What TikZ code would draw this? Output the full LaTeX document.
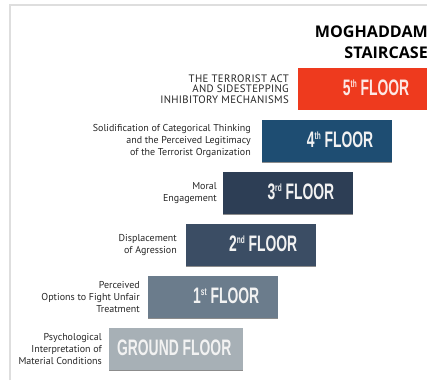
\documentclass[tikz,border=0pt]{standalone}
\usepackage{fontspec}
\setmainfont{PT Sans}
\newfontfamily\titlefont{Open Sans}
\newfontfamily\floorfont{Liberation Sans}
\newfontfamily\capsfont[LetterSpace=3]{PT Sans}
\usetikzlibrary{positioning}
\definecolor{floorG}{HTML}{A7B0B6}
\definecolor{floorA}{HTML}{6B7C8C}
\definecolor{floorB}{HTML}{3B4D64}
\definecolor{floorC}{HTML}{2D3E55}
\definecolor{floorD}{HTML}{1E4D72}
\definecolor{floorE}{HTML}{EE3A1E}
\definecolor{framegray}{HTML}{DEDEDE}
\newcommand{\floorname}[2]{\scalebox{0.62}[1]{#1\raisebox{8pt}{\fontsize{10.5}{10.5}\selectfont #2} FLOOR}}
\tikzset{
  floorbox/.style={fill=#1,minimum width=130pt,minimum height=42pt,inner sep=0pt,anchor=north west},
  floortext/.style={text=white!90!gray,inner sep=0pt,font=\floorfont\bfseries\fontsize{22.4}{22.4}\selectfont},
  stairlabel/.style={align=right,anchor=east,inner sep=0pt,text=black!85,font=\fontsize{10}{12.2}\selectfont},
}

\begin{document}
\begin{tikzpicture}[x=1pt,y=-1pt]
\useasboundingbox (0,0) rectangle (427,380);
\draw[framegray,line width=1.5pt] (10,380) -- (10,5) -- (427,5);
% the six floors
\foreach \i/\xx/\yy/\col in {0/109/328/floorG,1/148/276/floorA,2/186/224/floorB,3/223/172/floorC,4/262/120/floorD,5/298/68/floorE}
  \node[floorbox=\col] (floor\i) at (\xx,\yy) {};
\node[floorbox=floorG,minimum width=134pt] (floor0) at (109,328) {};
\foreach \i in {0,...,4} \draw[line width=1.2pt,black!45] (floor\i.south west) -- (floor\i.south east);
\node[floortext,text=floorE!12!white,anchor=east] (t5) at ([xshift=-19pt,yshift=1pt]floor5.east) {\floorname{5}{th}};
\node[floortext,anchor=east] (t4) at ([xshift=-19pt,yshift=1pt]floor4.east) {\floorname{4}{th}};
\node[floortext,anchor=east] (t3) at ([xshift=-19pt,yshift=1pt]floor3.east) {\floorname{3}{rd}};
\node[floortext,anchor=east] (t2) at ([xshift=-19pt,yshift=1pt]floor2.east) {\floorname{2}{nd}};
\node[floortext,anchor=east] (t1) at ([xshift=-19pt,yshift=1pt]floor1.east) {\floorname{1}{st}};
\node[floortext] (t0) at ([xshift=-2pt,yshift=1pt]floor0.center) {\scalebox{0.62}[1]{GROUND FLOOR}};
% labels on the left of each step
\node[stairlabel,font=\capsfont\fontsize{10.8}{10.2}\selectfont,left=9pt of floor5] (l5) {THE TERRORIST ACT\\AND SIDESTEPPING\\INHIBITORY MECHANISMS};
\node[stairlabel,left=11pt of floor4] (l4) {Solidification of Categorical Thinking\\and the Perceived Legitimacy\\of the Terrorist Organization};
\node[stairlabel,left=6pt of floor3] (l3) {Moral\\Engagement};
\node[stairlabel,left=9pt of floor2] (l2) {Displacement\\of Agression};
\node[stairlabel,left=8pt of floor1] (l1) {Perceived\\Options to Fight Unfair\\Treatment};
\node[stairlabel,left=7pt of floor0] (l0) {Psychological\\Interpretation of\\Material Conditions};
% title
\node[anchor=base east,inner sep=0pt,font=\titlefont\bfseries\fontsize{16.1}{16.1}\selectfont] (title1) at (428,37) {MOGHADDAM};
\node[anchor=base east,inner sep=0pt,font=\titlefont\bfseries\fontsize{16.1}{16.1}\selectfont] (title2) at (428,58) {STAIRCASE};
\end{tikzpicture}
\end{document}
